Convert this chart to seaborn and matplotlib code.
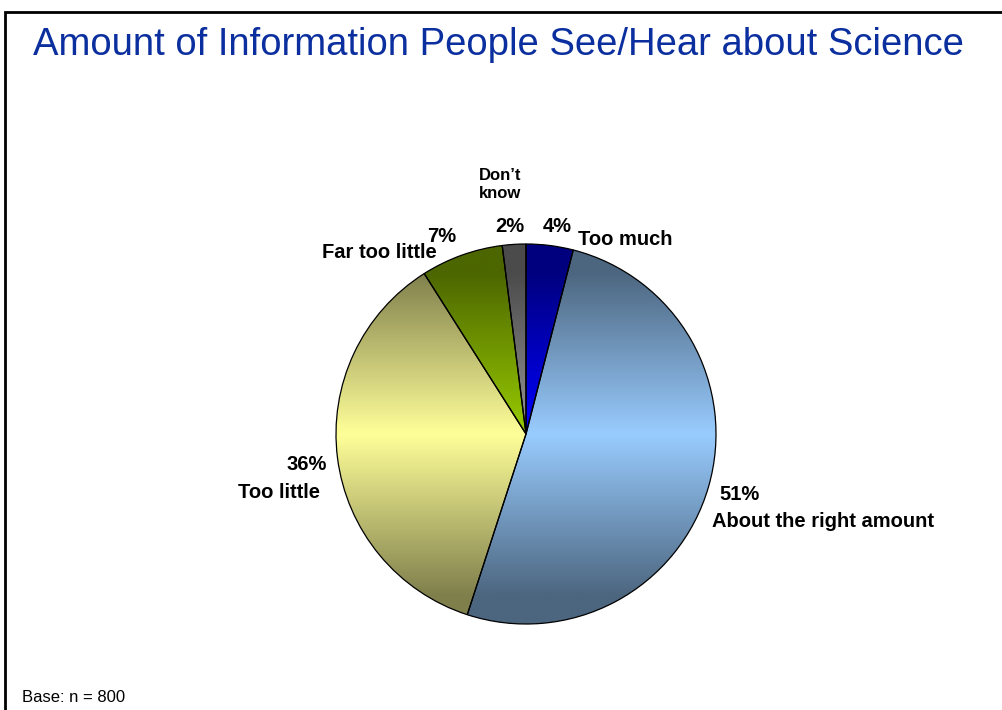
import numpy as np
import matplotlib
matplotlib.use("Agg")
import matplotlib.pyplot as plt
from matplotlib.colors import to_rgb
import seaborn as sns

# Survey answers, clockwise from 12 o'clock
categories = ["Too much", "About the right amount", "Too little", "Far too little", "Don\u2019t know"]
shares = [4, 51, 36, 7, 2]
light_colors = ["#0000FF", "#99CCFF", "#FFFF99", "#99CC00", "#969696"]
title = "Amount of Information People See/Hear about Science"
base_note = "Base: n = 800"

sns.set_theme(style="white")
plt.rcParams["font.family"] = ["Liberation Sans", "DejaVu Sans"]

W, H = 1002, 710
fig = plt.figure(figsize=(W / 100, H / 100), dpi=100)
fig.patch.set_facecolor("white")
ax = fig.add_axes([0, 0, 1, 1])

# Pie in pixel-like coordinates of the full-figure axes
cx, cy, R = 526, 276, 190
wedges, _ = ax.pie(
    shares, startangle=90, counterclock=False, center=(cx, cy), radius=R,
    colors=light_colors,
    wedgeprops=dict(edgecolor="black", linewidth=0.9),
)

# Vertical shading: light across the middle, half as bright toward top and bottom
ys = np.linspace(cy - R, cy + R, 400)
t = np.clip(np.abs(ys - cy) / (0.85 * R), 0, 1)
shade = 1.0 - 0.5 * t
for wedge, col in zip(wedges, light_colors):
    rgb = np.array(to_rgb(col))
    img = (shade[:, None, None] * rgb[None, None, :]).clip(0, 1)
    im = ax.imshow(img, extent=(cx - R, cx + R, cy - R, cy + R), origin="lower",
                   aspect="auto", interpolation="bilinear", zorder=1)
    im.set_clip_path(wedge)
    wedge.set_facecolor("none")
    wedge.set_zorder(2)

ax.set_xlim(0, W)
ax.set_ylim(0, H)
ax.axis("off")

# Slice labels: name and share
lab = dict(fontsize=14.5, fontweight="bold", color="black", va="baseline", ha="left")
pct = [f"{v}%" for v in shares]
# Too much
ax.text(543, H - 232, pct[0], **lab)
ax.text(578, H - 245, categories[0], **lab)
# About the right amount
ax.text(719, H - 500, pct[1], **lab)
ax.text(712, H - 527, categories[1], **lab)
# Too little
ax.text(287, H - 470, pct[2], **lab)
ax.text(238, H - 498, categories[2], **lab)
# Far too little
ax.text(427, H - 242, pct[3], **lab)
ax.text(322, H - 258, categories[3], **lab)
# Don't know
ax.text(495, H - 232, pct[4], **lab)
ax.text(500, H - 198, "Don\u2019t\nknow", fontsize=12, fontweight="bold", color="black",
        ha="center", va="baseline", linespacing=1.25, multialignment="center")

# Title and base note
ax.text(33, H - 55, title, fontsize=27.5, color="#0B2F9F", ha="left", va="baseline")
ax.text(22, H - 702, base_note, fontsize=12, color="black", ha="left", va="baseline")

# Slide frame: top and left rules
ax.plot([5, 5, W], [0, H - 12, H - 12], color="black", lw=2.0,
        solid_joinstyle="miter", solid_capstyle="butt", clip_on=False)

fig.savefig("out.png", dpi=100, facecolor="white")
